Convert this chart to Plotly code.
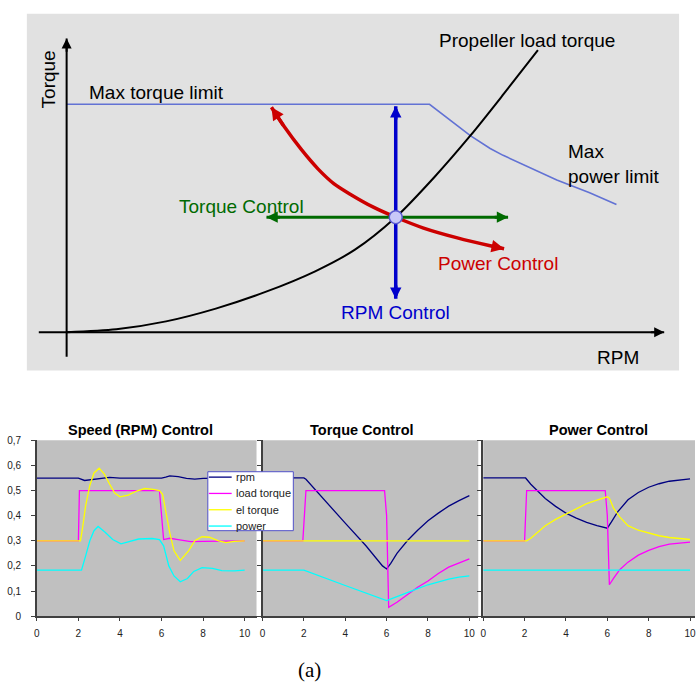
import plotly.graph_objects as go

W, H = 696, 687
FONT = "Liberation Sans, Arial, sans-serif"

# ---------------- Top schematic (diagram units) ----------------
limit_rpm = [0, 365, 406, 426, 439, 463, 493, 526, 553]
limit_torque = [232, 232, 200, 187, 180, 169, 155, 142, 130]

prop_rpm = [0, 50, 100, 150, 200, 250, 290, 331, 370, 406, 440, 474]
prop_torque = [0, 3, 11, 24, 41, 62, 84, 117, 158, 200, 243, 287]

power_rpm = [206, 219, 236, 253, 269, 286, 309, 331, 359, 393, 426, 440]
power_torque = [229, 209, 186, 166, 151, 140, 127, 117, 106, 96, 88, 85]

op_rpm, op_torque = 331, 117
rpm_ctrl_torque = [34, 230]     # vertical (RPM control) arrow ends
torque_ctrl_rpm = [201, 444]    # horizontal (Torque control) arrow ends
axis_rpm = [-28, 601]           # RPM axis extent
axis_torque = [-25, 299]        # Torque axis extent

# ---------------- Bottom simulation charts ----------------
series_names = ["rpm", "load torque", "el torque", "power"]
series_colors = ["#000080", "#ff00ff", "#ffff00", "#00ffff"]

# Speed (RPM) Control
rpm1_t = [0, 2, 2.3, 2.8, 3.5, 4, 5, 6, 6.2, 6.4, 6.8, 7.2, 7.6, 8, 9, 10]
rpm1_v = [0.549, 0.549, 0.540, 0.544, 0.552, 0.549, 0.549, 0.549, 0.553, 0.558, 0.555, 0.548, 0.545, 0.548, 0.549, 0.549]
load1_t = [0, 2.0, 2.05, 5.9, 6.1, 6.4, 6.8, 7.4, 8, 9, 10]
load1_v = [0.3, 0.3, 0.5, 0.5, 0.305, 0.31, 0.305, 0.297, 0.298, 0.3, 0.3]
el1_t = [0, 2.1, 2.2, 2.35, 2.55, 2.75, 3.0, 3.25, 3.5, 3.75, 4.0, 4.4, 4.8, 5.2, 5.6, 5.9, 6.05,
         6.2, 6.4, 6.6, 6.9, 7.3, 7.6, 7.95, 8.3, 8.75, 9.1, 9.5, 10]
el1_v = [0.3, 0.3, 0.35, 0.44, 0.52, 0.57, 0.589, 0.565, 0.526, 0.49, 0.475, 0.482, 0.498, 0.508, 0.505, 0.5, 0.485,
         0.42, 0.33, 0.26, 0.222, 0.26, 0.3, 0.316, 0.314, 0.3, 0.293, 0.298, 0.3]
pow1_t = [0, 2.15, 2.35, 2.55, 2.75, 2.95, 3.3, 3.65, 4.05, 4.45, 4.9, 5.55, 5.9, 6.1, 6.35, 6.6, 6.9,
          7.25, 7.55, 7.95, 8.45, 8.9, 9.5, 10]
pow1_v = [0.183, 0.183, 0.24, 0.3, 0.34, 0.357, 0.333, 0.305, 0.288, 0.297, 0.307, 0.309, 0.305, 0.28, 0.2, 0.16, 0.137,
          0.15, 0.178, 0.193, 0.19, 0.181, 0.18, 0.183]

# Torque Control
rpm2_t = [0, 2, 2.1, 3, 4, 5, 5.8, 6, 6.2, 6.5, 7, 7.5, 8, 8.5, 9, 9.5, 10]
rpm2_v = [0.55, 0.55, 0.545, 0.46, 0.37, 0.28, 0.2, 0.188, 0.21, 0.25, 0.3, 0.342, 0.38, 0.41, 0.438, 0.46, 0.48]
load2_t = [0, 1.95, 2.1, 5.9, 6.0, 6.1, 6.5, 7, 7.5, 8, 8.5, 9, 9.5, 10]
load2_v = [0.3, 0.3, 0.5, 0.5, 0.4, 0.035, 0.055, 0.085, 0.115, 0.14, 0.17, 0.195, 0.213, 0.228]
el2_t = [0, 10]
el2_v = [0.3, 0.3]
pow2_t = [0, 2, 4, 6, 6.5, 7, 7.5, 8, 8.5, 9, 9.5, 10]
pow2_v = [0.183, 0.183, 0.122, 0.062, 0.078, 0.095, 0.11, 0.125, 0.137, 0.147, 0.155, 0.16]

# Power Control
rpm3_t = [0, 2.05, 2.3, 2.6, 3, 3.5, 4, 4.5, 5, 5.5, 5.9, 6.0, 6.2, 6.5, 7, 7.5, 8, 8.5, 9, 9.5, 10]
rpm3_v = [0.55, 0.55, 0.525, 0.5, 0.468, 0.437, 0.41, 0.39, 0.373, 0.36, 0.35, 0.35, 0.375, 0.415, 0.463, 0.492,
          0.513, 0.527, 0.537, 0.543, 0.546]
load3_t = [0, 2, 2.1, 5.9, 6.0, 6.1, 6.3, 6.6, 7, 7.5, 8, 8.5, 9, 9.5, 10]
load3_v = [0.3, 0.3, 0.5, 0.5, 0.4, 0.125, 0.15, 0.185, 0.215, 0.243, 0.262, 0.277, 0.287, 0.292, 0.295]
el3_t = [0, 2.1, 2.3, 2.6, 3, 3.5, 4, 4.5, 5, 5.5, 5.9, 6.0, 6.1, 6.3, 6.6, 7, 7.5, 8, 8.5, 9, 9.5, 10]
el3_v = [0.3, 0.3, 0.31, 0.33, 0.36, 0.385, 0.407, 0.428, 0.448, 0.462, 0.472, 0.475, 0.47, 0.43, 0.395, 0.36,
         0.342, 0.33, 0.32, 0.313, 0.308, 0.305]
pow3_t = [0, 10]
pow3_v = [0.183, 0.183]

y_ticks = [0, 0.1, 0.2, 0.3, 0.4, 0.5, 0.6, 0.7]
y_ticktext = ["0", "0,1", "0,2", "0,3", "0,4", "0,5", "0,6", "0,7"]
x_ticks = [0, 2, 4, 6, 8, 10]
panel_titles = ["Speed (RPM) Control", "Torque Control", "Power Control"]

panels = [
    [(rpm1_t, rpm1_v), (load1_t, load1_v), (el1_t, el1_v), (pow1_t, pow1_v)],
    [(rpm2_t, rpm2_v), (load2_t, load2_v), (el2_t, el2_v), (pow2_t, pow2_v)],
    [(rpm3_t, rpm3_v), (load3_t, load3_v), (el3_t, el3_v), (pow3_t, pow3_v)],
]

fig = go.Figure()

# bottom traces
for k, panel in enumerate(panels):
    xa = "x" if k == 0 else f"x{k+1}"
    ya = "y" if k == 0 else f"y{k+1}"
    for j, (t, v) in enumerate(panel):
        fig.add_trace(go.Scatter(
            x=t, y=v, mode="lines", name=series_names[j],
            line=dict(color=series_colors[j], width=1.3),
            showlegend=False, xaxis=xa, yaxis=ya, hoverinfo="skip"))

# top schematic traces
D = dict(xaxis="x4", yaxis="y4", showlegend=False, hoverinfo="skip", mode="lines")
fig.add_trace(go.Scatter(x=limit_rpm, y=limit_torque, line=dict(color="#6272d4", width=1.6), **D))
fig.add_trace(go.Scatter(x=axis_rpm, y=[0, 0], line=dict(color="black", width=2), **D))
fig.add_trace(go.Scatter(x=[0, 0], y=axis_torque, line=dict(color="black", width=2), **D))
fig.add_trace(go.Scatter(x=prop_rpm, y=prop_torque, line=dict(color="black", width=2, shape="spline", smoothing=0.8), **D))
fig.add_trace(go.Scatter(x=power_rpm, y=power_torque, line=dict(color="#cc0000", width=3.5, shape="spline", smoothing=0.8), **D))
fig.add_trace(go.Scatter(x=torque_ctrl_rpm, y=[op_torque, op_torque], line=dict(color="#006a00", width=3), **D))
fig.add_trace(go.Scatter(x=[op_rpm, op_rpm], y=rpm_ctrl_torque, line=dict(color="#0000cc", width=3.5), **D))
fig.add_trace(go.Scatter(x=[op_rpm], y=[op_torque], mode="markers",
                         marker=dict(size=13, color="#c8c8f8", line=dict(color="#5a5ad0", width=1.5)),
                         xaxis="x4", yaxis="y4", showlegend=False, hoverinfo="skip"))


def head(xt, yt, xf, yf, color, width, size):
    fig.add_annotation(x=xt, y=yt, ax=xf, ay=yf, xref="x4", yref="y4", axref="x4", ayref="y4",
                       text="", showarrow=True, arrowhead=2, arrowsize=size, arrowwidth=width,
                       arrowcolor=color, standoff=0)


head(axis_rpm[1], 0, axis_rpm[1] - 15, 0, "black", 2, 1.0)
head(0, axis_torque[1], 0, axis_torque[1] - 15, "black", 2, 1.0)
head(power_rpm[0], power_torque[0], power_rpm[1], power_torque[1], "#cc0000", 3.5, 0.72)
head(power_rpm[-1], power_torque[-1], power_rpm[-2], power_torque[-2], "#cc0000", 3.5, 0.72)
head(torque_ctrl_rpm[0], op_torque, torque_ctrl_rpm[0] + 15, op_torque, "#006a00", 3, 0.75)
head(torque_ctrl_rpm[1], op_torque, torque_ctrl_rpm[1] - 15, op_torque, "#006a00", 3, 0.75)
head(op_rpm, rpm_ctrl_torque[0], op_rpm, rpm_ctrl_torque[0] + 15, "#0000cc", 3.5, 0.65)
head(op_rpm, rpm_ctrl_torque[1], op_rpm, rpm_ctrl_torque[1] - 15, "#0000cc", 3.5, 0.65)


# schematic labels
def dlabel(text, x, y, color="black", anchor="left", angle=0):
    fig.add_annotation(x=x, y=y, xref="x4", yref="y4", text=text, showarrow=False,
                       xanchor=anchor, yanchor="middle", align="left", textangle=angle,
                       font=dict(family=FONT, size=19, color=color))


dlabel("Max torque limit", 20, 244)
dlabel("Propeller load torque", 373, 297)
dlabel("Max<br>power limit", 502, 171)
dlabel("Torque Control", 111, 128, "#006a00")
dlabel("Power Control", 371, 70, "#cc0000")
dlabel("RPM Control", 274, 20, "#0000cc")
dlabel("RPM", 531, -26)
dlabel("Torque", -18, 257, anchor="center", angle=-90)

# panel titles and caption
title_x = [138, 361, 599]
for tx, tt in zip(title_x, panel_titles):
    fig.add_annotation(x=tx / W, y=1 - 432 / H, xref="paper", yref="paper", text=f"<b>{tt}</b>",
                       showarrow=False, xanchor="center", yanchor="middle",
                       font=dict(family=FONT, size=14.5, color="black"))
fig.add_annotation(x=308 / W, y=1 - 676 / H, xref="paper", yref="paper", text="(a)", showarrow=False,
                   xanchor="center", yanchor="middle",
                   font=dict(family="Liberation Serif, Times New Roman, serif", size=21, color="black"))

# background panels
fig.add_shape(type="rect", xref="x4 domain", yref="y4 domain", x0=0, x1=1, y0=0, y1=1,
              fillcolor="#e1e1e1", line_width=0, layer="below")
for k in range(3):
    xr = "x domain" if k == 0 else f"x{k+1} domain"
    yr = "y domain" if k == 0 else f"y{k+1} domain"
    fig.add_shape(type="rect", xref=xr, yref=yr, x0=0, x1=1, y0=0, y1=1,
                  fillcolor="#c0c0c0", line_width=0, layer="below")

# legend box (drawn as shapes + text, Excel style)
LG_L, LG_R, LG_T, LG_B = 206, 292, 474, 534
fig.add_shape(type="rect", xref="paper", yref="paper", x0=LG_L / W, x1=LG_R / W,
              y0=1 - LG_B / H, y1=1 - LG_T / H, fillcolor="white",
              line=dict(color="#5050c8", width=1), layer="above")
for i, (nm, col) in enumerate(zip(series_names, series_colors)):
    yy = 1 - (479.5 + i * 16.6) / H
    fig.add_shape(type="line", xref="paper", yref="paper", x0=207 / W, x1=230 / W, y0=yy, y1=yy,
                  line=dict(color=col, width=1.3), layer="above")
    fig.add_annotation(x=232 / W, y=yy, xref="paper", yref="paper", text=nm, showarrow=False,
                       xanchor="left", yanchor="middle",
                       font=dict(family=FONT, size=11, color="#222"))

ydom = [1 - 621 / H, 1 - 442 / H]
xdoms = [[34 / W, 255 / W], [261 / W, 478 / W], [483 / W, 1.0]]
xranges = [[0, 10.57], [0, 10.43], [0, 10.24]]

axis_common = dict(showgrid=False, zeroline=False, showline=True, linecolor="#404040", linewidth=1.5,
                   ticks="outside", tickcolor="#404040", tickwidth=1,
                   tickfont=dict(family=FONT, size=10, color="#222"))
layout_axes = {}
for k in range(3):
    sx = "xaxis" if k == 0 else f"xaxis{k+1}"
    sy = "yaxis" if k == 0 else f"yaxis{k+1}"
    layout_axes[sx] = dict(domain=xdoms[k], range=xranges[k], tickvals=x_ticks, ticklen=3,
                           anchor="y" if k == 0 else f"y{k+1}", ticklabelstandoff=4,
                           ticklabeloverflow="allow", **axis_common)
    layout_axes[sy] = dict(domain=ydom, range=[0, 0.7], tickvals=y_ticks, ticktext=y_ticktext, ticklen=4,
                           showticklabels=(k == 0), anchor="x" if k == 0 else f"x{k+1}",
                           ticklabelstandoff=8, **axis_common)
layout_axes["xaxis4"] = dict(domain=[24 / W, 680 / W], range=[-40, 616], visible=False, anchor="y4")
layout_axes["yaxis4"] = dict(domain=[1 - 371 / H, 1 - 8 / H], range=[-39, 324], visible=False, anchor="x4")

fig.update_layout(
    width=W, height=H, margin=dict(l=0, r=0, t=0, b=0),
    paper_bgcolor="white", plot_bgcolor="rgba(0,0,0,0)",
    font=dict(family=FONT), showlegend=False,
    **layout_axes,
)

fig.write_html("out.html", config={"displayModeBar": False},
               post_script="document.body.style.margin='0px';")
